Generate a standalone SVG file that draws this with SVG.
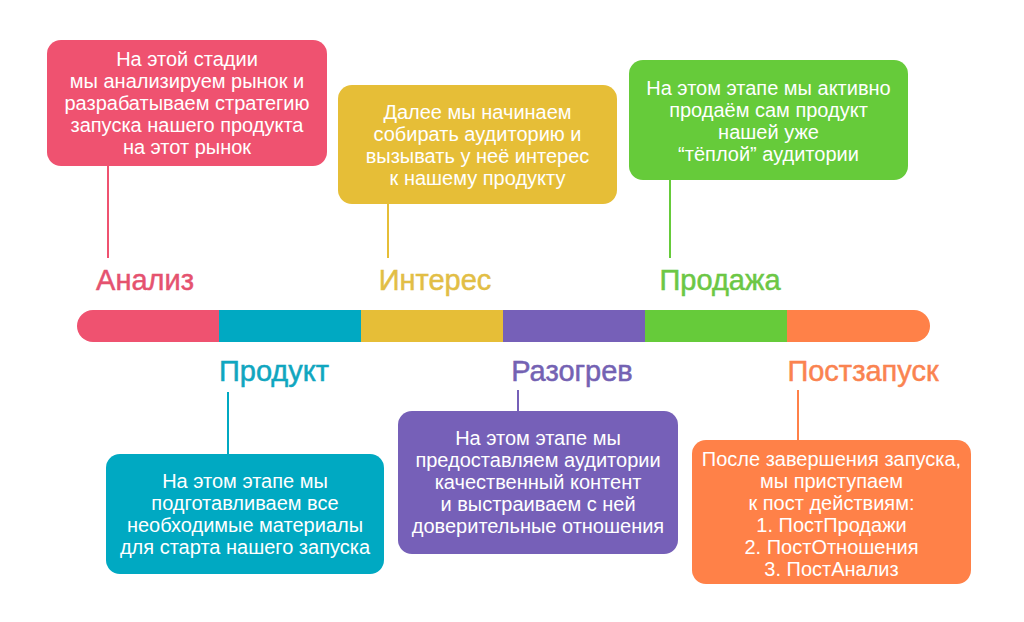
<svg xmlns="http://www.w3.org/2000/svg" width="1024" height="622" viewBox="0 0 1024 622">
<style>
.bt{font-family:"Liberation Sans",Arial,sans-serif;font-size:20px;fill:#fff;text-anchor:middle}
.lb{font-family:"Liberation Sans",Arial,sans-serif;font-size:29px;text-anchor:middle;stroke-width:0.5}
.cn{stroke-width:2;fill:none}
</style>
<defs>
<clipPath id="barclip"><rect x="77" y="310" width="853" height="32" rx="16"/></clipPath>
</defs>
<rect width="1024" height="622" fill="#fff"/>
<g id="bar" clip-path="url(#barclip)">
<rect x="77" y="310" width="142" height="32" fill="#EF5270"/>
<rect x="219" y="310" width="142" height="32" fill="#00A9C2"/>
<rect x="361" y="310" width="142" height="32" fill="#E6BE37"/>
<rect x="503" y="310" width="142" height="32" fill="#7660B8"/>
<rect x="645" y="310" width="142" height="32" fill="#66CB3A"/>
<rect x="787" y="310" width="143" height="32" fill="#FF8148"/>
</g>
<g id="connectors">
<line class="cn" x1="108" y1="166" x2="108" y2="258" stroke="#EF5270"/>
<line class="cn" x1="388" y1="204" x2="388" y2="258" stroke="#E6BE37"/>
<line class="cn" x1="670" y1="180" x2="670" y2="258" stroke="#66CB3A"/>
<line class="cn" x1="228" y1="392" x2="228" y2="454" stroke="#00A9C2"/>
<line class="cn" x1="518" y1="390" x2="518" y2="411" stroke="#7660B8"/>
<line class="cn" x1="798" y1="390" x2="798" y2="440" stroke="#FF8148"/>
</g>
<g id="analiz">
<rect x="47" y="40" width="280" height="126" rx="14" fill="#EF5270"/>
<text class="bt" x="187" y="66">На этой стадии</text>
<text class="bt" x="187" y="88">мы анализируем рынок и</text>
<text class="bt" x="187" y="110">разрабатываем стратегию</text>
<text class="bt" x="187" y="132">запуска нашего продукта</text>
<text class="bt" x="187" y="154">на этот рынок</text>
<text class="lb" x="145" y="290" fill="#E5526F" stroke="#E5526F">Анализ</text>
</g>
<g id="interes">
<rect x="338" y="85" width="279" height="119" rx="14" fill="#E6BE37"/>
<text class="bt" x="477.5" y="119">Далее мы начинаем</text>
<text class="bt" x="477.5" y="141">собирать аудиторию и</text>
<text class="bt" x="477.5" y="163">вызывать у неё интерес</text>
<text class="bt" x="477.5" y="185">к нашему продукту</text>
<text class="lb" x="435" y="290" fill="#E2BE45" stroke="#E2BE45">Интерес</text>
</g>
<g id="prodazha">
<rect x="629" y="60" width="279" height="120" rx="14" fill="#66CB3A"/>
<text class="bt" x="768.5" y="95">На этом этапе мы активно</text>
<text class="bt" x="768.5" y="117">продаём сам продукт</text>
<text class="bt" x="768.5" y="139">нашей уже</text>
<text class="bt" x="768.5" y="161">“тёплой” аудитории</text>
<text class="lb" x="720" y="290" fill="#6CC745" stroke="#6CC745">Продажа</text>
</g>
<g id="produkt">
<rect x="106" y="454" width="278" height="120" rx="14" fill="#00A9C2"/>
<text class="bt" x="245" y="488">На этом этапе мы</text>
<text class="bt" x="245" y="510">подготавливаем все</text>
<text class="bt" x="245" y="532">необходимые материалы</text>
<text class="bt" x="245" y="554">для старта нашего запуска</text>
<text class="lb" x="274" y="381" fill="#10A6BF" stroke="#10A6BF">Продукт</text>
</g>
<g id="razogrev">
<rect x="398" y="411" width="280" height="143" rx="14" fill="#7660B8"/>
<text class="bt" x="538" y="445">На этом этапе мы</text>
<text class="bt" x="538" y="467">предоставляем аудитории</text>
<text class="bt" x="538" y="489">качественный контент</text>
<text class="bt" x="538" y="511">и выстраиваем с ней</text>
<text class="bt" x="538" y="533">доверительные отношения</text>
<text class="lb" x="572" y="381" fill="#7462B3" stroke="#7462B3">Разогрев</text>
</g>
<g id="postzapusk">
<rect x="692" y="440" width="279" height="144" rx="14" fill="#FF8148"/>
<text class="bt" x="831.5" y="466">После завершения запуска,</text>
<text class="bt" x="831.5" y="488">мы приступаем</text>
<text class="bt" x="831.5" y="510">к пост действиям:</text>
<text class="bt" x="831.5" y="532">1. ПостПродажи</text>
<text class="bt" x="831.5" y="554">2. ПостОтношения</text>
<text class="bt" x="831.5" y="576">3. ПостАнализ</text>
<text class="lb" x="863" y="381" fill="#FA8350" stroke="#FA8350">Постзапуск</text>
</g>
</svg>
